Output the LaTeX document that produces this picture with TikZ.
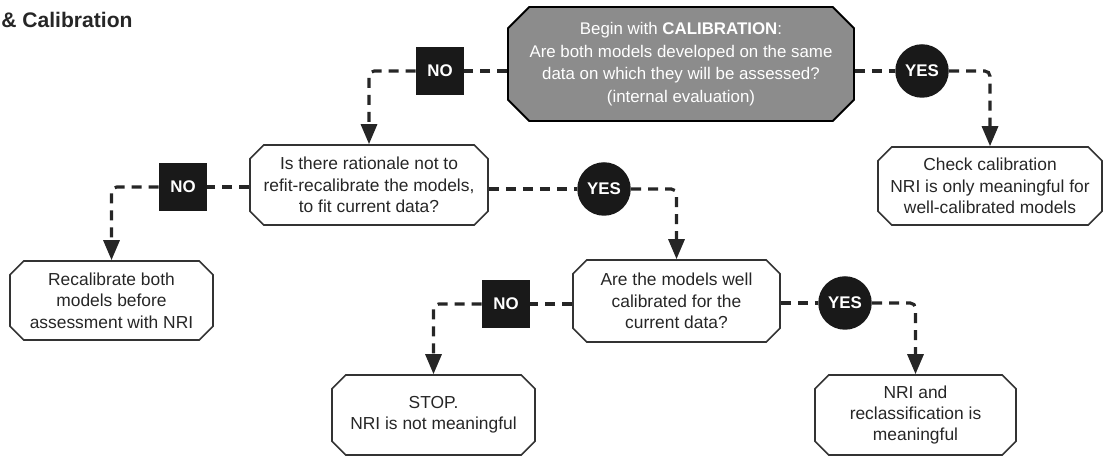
\documentclass[tikz,border=0pt]{standalone}
\usepackage{fontspec}
\setmainfont{Liberation Sans}
\usetikzlibrary{arrows.meta, shapes.misc, positioning}

\begin{document}
\begin{tikzpicture}[
    box/.style={draw=black!80, line width=0.9pt, chamfered rectangle, chamfered rectangle xsep=0.15cm,
                inner sep=0pt, align=center, font=\fontsize{9.9}{12.2}\selectfont, text=black!85},
    topbox/.style={box, fill=black!45, draw=black, line width=1.1pt, chamfered rectangle xsep=0.3cm,
                   text=white, font=\fontsize{9.6}{12.8}\selectfont},
    nobox/.style={draw=none, fill=black!90, minimum size=0.96cm, inner sep=0pt, text=white,
                  font=\bfseries\fontsize{9.6}{11}\selectfont},
    yesbox/.style={nobox, circle, minimum size=1.07cm},
    link/.style={dashed, dash pattern=on 0.2cm off 0.14cm, line width=1.8pt, black!85},
    arrow/.style={link, rounded corners=3pt, -{Triangle[length=0.4cm, width=0.32cm]}}
]
\useasboundingbox (0,0) rectangle (22.1,9.12);

\node[anchor=west, inner sep=0pt, font=\bfseries\fontsize{12}{14}\selectfont, text=black!85] (title) at (0.02,8.73) {\& Calibration};

\node[topbox, minimum width=6.92cm, minimum height=2.28cm] (start) at (13.62,7.84)
    {Begin with \textbf{CALIBRATION}:\\Are both models developed on the same\\data on which they will be assessed?\\(internal evaluation)};
\node[box, minimum width=4.76cm, minimum height=1.6cm] (rationale) at (7.38,5.42)
    {Is there rationale not to\\refit-recalibrate the models,\\to fit current data?};
\node[box, minimum width=4.48cm, minimum height=1.56cm] (check) at (19.8,5.40)
    {Check calibration\\NRI is only meaningful for\\well-calibrated models};
\node[box, minimum width=4.06cm, minimum height=1.58cm] (recal) at (2.23,3.11)
    {Recalibrate both\\models before\\assessment with NRI};
\node[box, minimum width=4.14cm, minimum height=1.64cm] (wellcal) at (13.53,3.10)
    {Are the models well\\calibrated for the\\current data?};
\node[box, minimum width=4.06cm, minimum height=1.6cm] (stop) at (8.67,0.82)
    {STOP.\\NRI is not meaningful};
\node[box, minimum width=4.02cm, minimum height=1.6cm] (meaning) at (18.31,0.82)
    {NRI and\\reclassification is\\meaningful};

% answers
\node[nobox]  (noA)  at (8.80,7.70)  {NO};
\node[yesbox] (yesA) at (18.44,7.70) {YES};
\node[nobox]  (noB)  at (3.66,5.38)  {NO};
\node[yesbox] (yesB) at (12.08,5.34) {YES};
\node[nobox]  (noC)  at (10.12,3.04) {NO};
\node[yesbox] (yesC) at (16.90,3.06) {YES};

% first question
\draw[link]  (start.west |- noA) -- (noA);
\draw[arrow] (noA) -| (rationale);
\draw[link]  (start.east |- yesA) -- (yesA);
\draw[arrow] (yesA) -| (check);

% refit or not
\draw[link]  (rationale.west |- noB) -- (noB);
\draw[arrow] (noB) -| (recal);
\draw[link]  (rationale.east |- yesB) -- (yesB);
\draw[arrow] (yesB) -| (wellcal);

% well calibrated?
\draw[link]  (wellcal.west |- noC) -- (noC);
\draw[arrow] (noC) -| (stop);
\draw[link]  (wellcal.east |- yesC) -- (yesC);
\draw[arrow] (yesC) -| (meaning);
\end{tikzpicture}
\end{document}
